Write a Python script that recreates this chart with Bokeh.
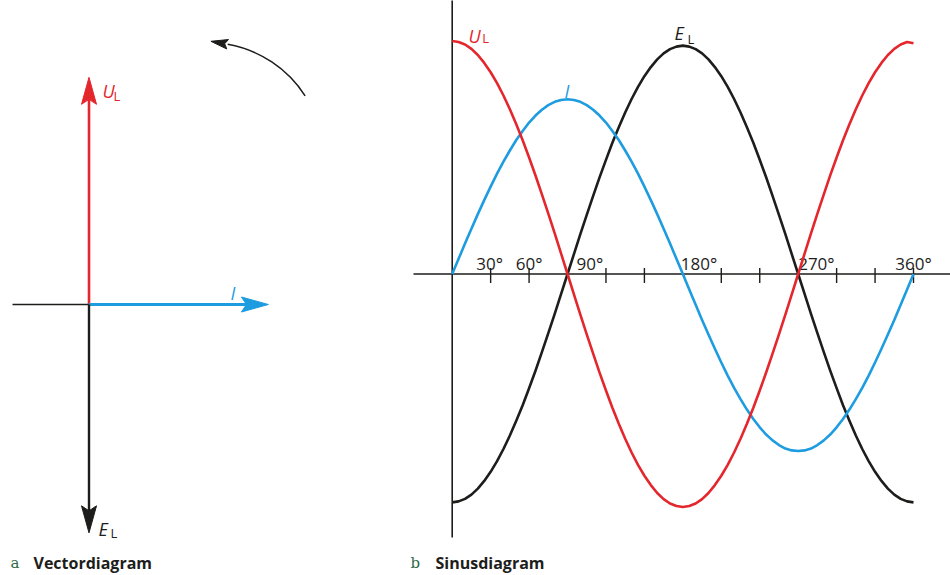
import math
from bokeh.plotting import figure
from bokeh.layouts import row
from bokeh.models import Range1d, ColumnDataSource
from bokeh.core.properties import value
from bokeh.embed import file_html
from bokeh.resources import INLINE

# ---------------- data ----------------
angle_deg = list(range(0, 361, 5))
u_l = [1.00, 0.996, 0.985, 0.966, 0.94, 0.906, 0.866, 0.819, 0.766, 0.707,
       0.643, 0.574, 0.50, 0.423, 0.342, 0.259, 0.174, 0.087, 0.00,
       -0.087, -0.174, -0.259, -0.342, -0.423, -0.50, -0.574, -0.643, -0.707,
       -0.766, -0.819, -0.866, -0.906, -0.94, -0.966, -0.985, -0.996, -1.00,
       -0.996, -0.985, -0.966, -0.94, -0.906, -0.866, -0.819, -0.766, -0.707,
       -0.643, -0.574, -0.50, -0.423, -0.342, -0.259, -0.174, -0.087, 0.00,
       0.087, 0.174, 0.259, 0.342, 0.423, 0.50, 0.574, 0.643, 0.707,
       0.766, 0.819, 0.866, 0.906, 0.94, 0.966, 0.985, 0.996, 0.99]
i_cur = [0.00, 0.065, 0.131, 0.194, 0.257, 0.317, 0.375, 0.431, 0.482, 0.53,
         0.575, 0.614, 0.65, 0.68, 0.705, 0.725, 0.739, 0.747, 0.75,
         0.747, 0.739, 0.725, 0.705, 0.68, 0.65, 0.614, 0.575, 0.53,
         0.482, 0.431, 0.375, 0.317, 0.257, 0.194, 0.131, 0.065, 0.00,
         -0.066, -0.132, -0.197, -0.26, -0.321, -0.38, -0.436, -0.489, -0.537,
         -0.582, -0.622, -0.658, -0.689, -0.714, -0.734, -0.749, -0.757, -0.76,
         -0.757, -0.749, -0.734, -0.714, -0.689, -0.658, -0.622, -0.582, -0.537,
         -0.489, -0.436, -0.38, -0.321, -0.26, -0.197, -0.132, -0.066, 0.00]
e_l = [-0.98, -0.976, -0.965, -0.947, -0.921, -0.888, -0.849, -0.803, -0.751, -0.693,
       -0.63, -0.563, -0.49, -0.415, -0.335, -0.254, -0.171, -0.085, 0.00,
       0.085, 0.171, 0.254, 0.335, 0.415, 0.49, 0.563, 0.63, 0.693,
       0.751, 0.803, 0.849, 0.888, 0.921, 0.947, 0.965, 0.976, 0.98,
       0.976, 0.965, 0.947, 0.921, 0.888, 0.849, 0.803, 0.751, 0.693,
       0.63, 0.563, 0.49, 0.415, 0.335, 0.254, 0.171, 0.085, 0.00,
       -0.085, -0.171, -0.254, -0.335, -0.415, -0.49, -0.563, -0.63, -0.693,
       -0.751, -0.803, -0.849, -0.888, -0.921, -0.947, -0.965, -0.976, -0.98]

tick_deg = [30, 60, 120, 150, 210, 240, 300, 330, 360]
tick_label_deg = [30, 60, 90, 180, 270, 360]
tick_labels = ["30°", "60°", "90°", "180°", "270°", "360°"]

vec_names = ["U", "I", "E"]
vec_x = [0.0, 0.77, 0.0]
vec_y = [0.975, 0.0, -0.98]

# ---------------- style ----------------
RED = "#e4262d"
BLUE = "#1e9ce0"
BLACK = "#1d1d1b"
GREEN = "#2f6a47"
PX = 233.0          # pixels per amplitude unit
DEGPX = 1.28139     # pixels per degree
FONT = value("Open Sans")
H = 575
CAP_BASE = 562.0    # caption baseline (px from top)


def head(tx, ty, dx, dy, L, hw, notch):
    bx, by = tx - L * dx, ty - L * dy
    nx, ny = -dy, dx
    xs = [tx, bx + hw * nx, tx - (L - notch) * dx, bx - hw * nx]
    ys = [ty, by + hw * ny, ty - (L - notch) * dy, by - hw * ny]
    return xs, ys


def clean(p):
    p.outline_line_color = None
    p.background_fill_color = "white"
    p.border_fill_color = "white"
    p.xgrid.visible = False
    p.ygrid.visible = False


# ---------------- panel a: vector diagram ----------------
OX, OY = 88.5, 304.0
p1 = figure(width=405, height=H,
            x_range=Range1d(-OX / PX, (405 - OX) / PX),
            y_range=Range1d(-(H - OY) / PX, OY / PX),
            output_backend="svg", toolbar_location=None,
            x_axis_location=None, y_axis_location=None, min_border=0)
clean(p1)

# reference line to the left of the origin
p1.segment(x0=[-76.5 / PX], y0=[0], x1=[0], y1=[0], line_color=BLACK, line_width=1.6)

vec_colors = [RED, BLUE, BLACK]
vec_widths = [2.6, 3.0, 2.4]
HL, HW, HN = 27 / PX, 7.5 / PX, 5 / PX
for vx, vy, c, w in zip(vec_x, vec_y, vec_colors, vec_widths):
    ln = math.hypot(vx, vy)
    dx, dy = vx / ln, vy / ln
    p1.segment(x0=[0], y0=[0], x1=[vx - (HL - HN) * dx], y1=[vy - (HL - HN) * dy],
               line_color=c, line_width=w)
    hx, hy = head(vx, vy, dx, dy, HL, HW, HN)
    p1.patch(hx, hy, fill_color=c, line_color=c, line_width=1)

# rotation arrow (counter-clockwise)
acx, acy, ar = 118.5 / PX, 146.0 / PX, 116.0 / PX
a0, a1 = math.radians(32.7), math.radians(80.0)
p1.arc(x=[acx], y=[acy], radius=ar, start_angle=a0, end_angle=a1,
       line_color=BLACK, line_width=1.5)
bx, by = acx + ar * math.cos(a1), acy + ar * math.sin(a1)
ddx, ddy = -math.sin(a1), math.cos(a1)
L2 = 17 / PX
hx, hy = head(bx + L2 * ddx, by + L2 * ddy, ddx, ddy, L2, 4.8 / PX, 3 / PX)
p1.patch(hx, hy, fill_color=BLACK, line_color=BLACK, line_width=1)

# vector labels
p1.text(x=[13.5 / PX], y=[214 / PX], text=["U"], text_color=RED, text_font=FONT,
        text_font_size="18px", text_font_style="italic", text_baseline="alphabetic")
p1.text(x=[24.5 / PX], y=[209 / PX], text=["L"], text_color=RED, text_font=FONT,
        text_font_size="13px", text_baseline="alphabetic")
p1.text(x=[141.5 / PX], y=[12 / PX], text=["I"], text_color=BLUE, text_font=FONT,
        text_font_size="18px", text_font_style="italic", text_baseline="alphabetic")
p1.text(x=[9.5 / PX], y=[-224 / PX], text=["E"], text_color=BLACK, text_font=FONT,
        text_font_size="18px", text_font_style="italic", text_baseline="alphabetic")
p1.text(x=[21.5 / PX], y=[-228 / PX], text=["L"], text_color=BLACK, text_font=FONT,
        text_font_size="13px", text_baseline="alphabetic")

# caption a
cy1 = -(CAP_BASE - OY) / PX
p1.text(x=[-78.5 / PX], y=[cy1], text=["a"], text_color=GREEN,
        text_font=value("DejaVu Serif"), text_font_size="15px", text_baseline="alphabetic")
p1.text(x=[-55.5 / PX], y=[cy1], text=["Vectordiagram"], text_color=BLACK,
        text_font=FONT, text_font_size="16px", text_font_style="bold",
        text_baseline="alphabetic")

# ---------------- panel b: sine diagram ----------------
AXY = 273.5
x0deg = -46.7 / DEGPX
p2 = figure(width=545, height=H,
            x_range=Range1d(x0deg, x0deg + 545 / DEGPX),
            y_range=Range1d(-(H - AXY) / PX, AXY / PX),
            output_backend="svg", toolbar_location=None,
            x_axis_location=None, y_axis_location=None, min_border=0)
clean(p2)

# axes
p2.segment(x0=[-38.7 / DEGPX], y0=[0], x1=[x0deg + 545 / DEGPX], y1=[0],
           line_color=BLACK, line_width=1.6)
p2.segment(x0=[0], y0=[1.2], x1=[0], y1=[-263.5 / PX], line_color=BLACK, line_width=1.6)
p2.segment(x0=tick_deg, y0=[6 / PX] * len(tick_deg), x1=tick_deg,
           y1=[-9 / PX] * len(tick_deg), line_color=BLACK, line_width=1.4)

lbl_src = ColumnDataSource(dict(
    x=tick_label_deg, y=[10.5 / PX] * len(tick_label_deg), text=tick_labels,
    align=["center", "center", "left", "left", "left", "center"],
    xo=[-1, 0, 9, -2, 0, 0]))
p2.text(x="x", y="y", text="text", text_align="align", x_offset="xo", source=lbl_src,
        text_color=BLACK, text_font=FONT, text_font_size="17px",
        text_baseline="alphabetic")

# curves
p2.line(angle_deg, e_l, line_color=BLACK, line_width=2.6, line_join="round")
p2.line(angle_deg, i_cur, line_color=BLUE, line_width=2.6, line_join="round")
p2.line(angle_deg, u_l, line_color=RED, line_width=2.6, line_join="round")

# curve labels
p2.text(x=[16.3 / DEGPX], y=[238.5 / PX], text=["U"], text_color=RED, text_font=FONT,
        text_font_size="18px", text_font_style="italic", text_baseline="alphabetic")
p2.text(x=[30.0 / DEGPX], y=[236.5 / PX], text=["L"], text_color=RED, text_font=FONT,
        text_font_size="13px", text_baseline="alphabetic")
p2.text(x=[112.3 / DEGPX], y=[183.5 / PX], text=["I"], text_color=BLUE, text_font=FONT,
        text_font_size="18px", text_font_style="italic", text_baseline="alphabetic")
p2.text(x=[222.3 / DEGPX], y=[241.5 / PX], text=["E"], text_color=BLACK, text_font=FONT,
        text_font_size="18px", text_font_style="italic", text_baseline="alphabetic")
p2.text(x=[235.3 / DEGPX], y=[235.5 / PX], text=["L"], text_color=BLACK, text_font=FONT,
        text_font_size="13px", text_baseline="alphabetic")

# caption b
cy2 = -(CAP_BASE - AXY) / PX
p2.text(x=[-41.7 / DEGPX], y=[cy2], text=["b"], text_color=GREEN,
        text_font=value("DejaVu Serif"), text_font_size="15px", text_baseline="alphabetic")
p2.text(x=[-16.7 / DEGPX], y=[cy2], text=["Sinusdiagram"], text_color=BLACK,
        text_font=FONT, text_font_size="16px", text_font_style="bold",
        text_baseline="alphabetic")

layout = row(p1, p2)
open("out.html", "w").write(file_html(layout, INLINE))
